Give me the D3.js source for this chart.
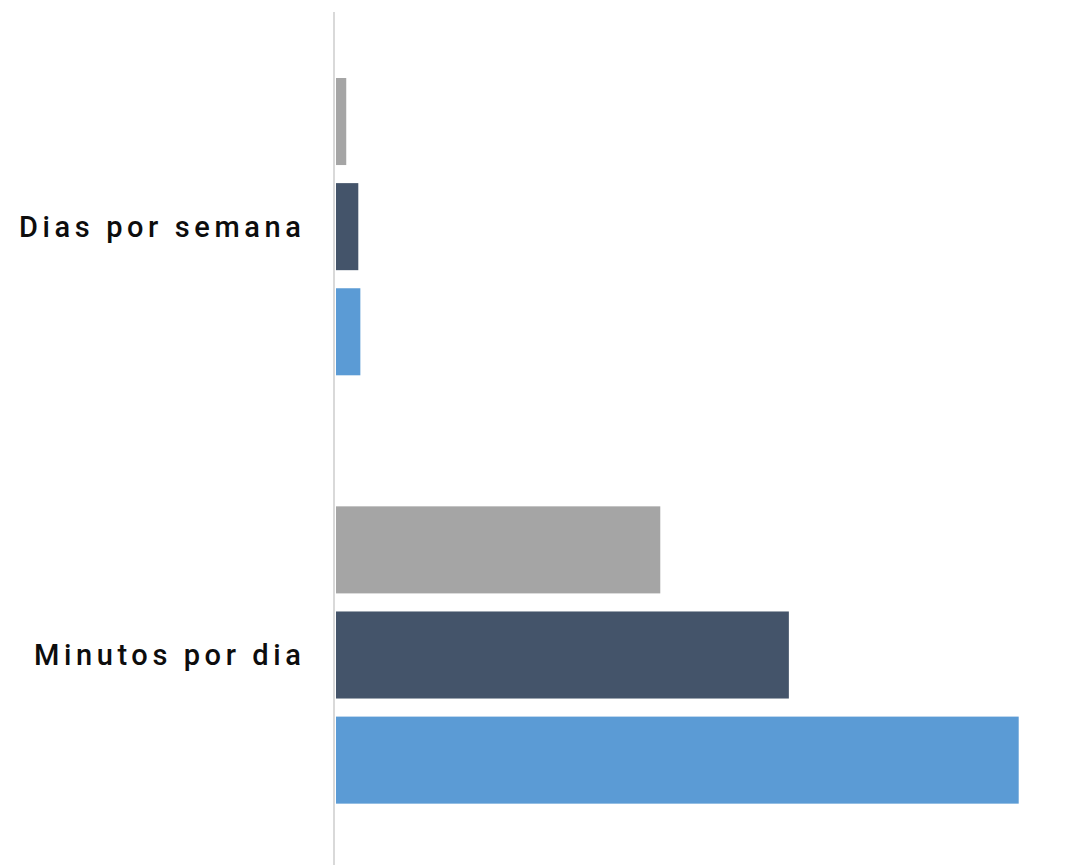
<!DOCTYPE html>
<html>
<head>
<meta charset="utf-8">
<script src="https://cdn.jsdelivr.net/npm/d3@7/dist/d3.min.js"></script>
<style>
  html, body { margin: 0; padding: 0; background: #ffffff; }
  svg { display: block; }
</style>
</head>
<body>
<svg id="chart" width="1074" height="865"></svg>
<script>
// Data
const categories = ["Dias por semana", "Minutos por dia"];
const seriesNames = ["Série C", "Série B", "Série A"];
const seriesColors = ["#a5a5a5", "#44546a", "#5b9bd5"];
const serieC = [0.9, 28.5];
const serieB = [1.96, 39.8];
const serieA = [2.14, 60];
const seriesValues = [serieC, serieB, serieA];

const svg = d3.select("#chart");
const axisX = 336;

const x = d3.scaleLinear().domain([0, 60]).range([axisX, axisX + 682.7]);

const y = d3.scaleBand().domain(categories).range([12.5, 869.2]).paddingInner(0).paddingOuter(0);
const ySub = d3.scaleBand().domain(d3.range(seriesNames.length))
  .range([65.5, 362.8]).paddingInner(0.172).paddingOuter(0);

const groups = svg.selectAll("g.cat").data(categories).join("g")
  .attr("class", "cat")
  .attr("transform", d => `translate(0,${y(d)})`);

groups.each(function(cat, ci) {
  d3.select(this).selectAll("rect")
    .data(seriesValues.map((vals, si) => ({ si, v: vals[ci] })))
    .join("rect")
    .attr("x", x(0))
    .attr("y", d => ySub(d.si))
    .attr("width", d => x(d.v) - x(0))
    .attr("height", ySub.bandwidth())
    .attr("fill", d => seriesColors[d.si]);
});

// Axis line
const yAxis = d3.axisLeft(y).tickSize(0).tickPadding(0);
const ag = svg.append("g").attr("transform", `translate(${axisX - 2},0)`).call(yAxis);
ag.select(".domain").attr("stroke", "#d9d9d9").attr("stroke-width", 2)
  .attr("d", "M0,12V865");
ag.selectAll(".tick text")
  .attr("x", -28.5)
  .attr("dy", "0.35em")
  .style("font-family", "Roboto, 'DejaVu Sans', sans-serif")
  .style("font-size", "29px")
  .style("font-weight", "500")
  .style("letter-spacing", "4.6px")
  .attr("fill", "#0d0d0d")
  .attr("text-anchor", "end");
</script>
</body>
</html>
